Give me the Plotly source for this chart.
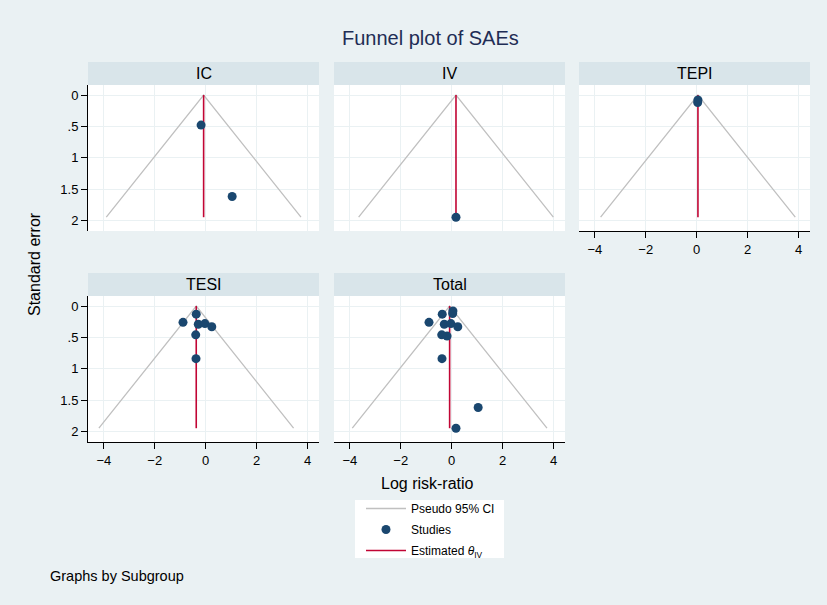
import plotly.graph_objects as go

# Subgroup funnel-plot data: log risk-ratio and its standard error per study
groups = ["IC", "IV", "TEPI", "TESI", "Total"]

ic_lrr = [-0.18, 1.04]
ic_se = [0.48, 1.62]

iv_lrr = [0.17]
iv_se = [1.95]

tepi_lrr = [0.05, 0.04]
tepi_se = [0.08, 0.12]

tesi_lrr = [-0.37, -0.89, -0.29, -0.03, 0.24, -0.39, -0.38]
tesi_se = [0.13, 0.26, 0.29, 0.28, 0.33, 0.46, 0.84]

total_lrr = ic_lrr + iv_lrr + tepi_lrr + tesi_lrr
total_se = ic_se + iv_se + tepi_se + tesi_se

# Inverse-variance pooled estimate per subgroup
theta_iv = [-0.08, 0.17, 0.05, -0.37, -0.08]

x_ticks = [-4, -2, 0, 2, 4]
y_ticks = [0, 0.5, 1, 1.5, 2]
y_tick_labels = ["0", ".5", "1", "1.5", "2"]

lrr = [ic_lrr, iv_lrr, tepi_lrr, tesi_lrr, total_lrr]
se = [ic_se, iv_se, tepi_se, tesi_se, total_se]
se_max = max(total_se)

W, H = 827, 605
BG = "#eaf1f3"
STRIP = "#d9e5ea"
GRID = "#eaf1f3"
NAVY = "#1a476f"
CRAN = "#c10534"
GRAY = "#c0c0c0"
FONT = "Liberation Sans, Arial, Helvetica, sans-serif"

# panel grid in pixels
col_px = [(88, 319), (334, 565), (579, 810)]
row_plot_px = [(85, 231), (296, 442)]
row_head_px = [(62, 85), (273, 296)]
cells = [(0, 0), (0, 1), (0, 2), (1, 0), (1, 1)]


def fx(px):
    return px / W


def fy(py):
    return 1 - py / H


fig = go.Figure()
layout_axes = {}
shapes = []
annotations = []

for i, (g, (r, c)) in enumerate(zip(groups, cells)):
    n = "" if i == 0 else str(i + 1)
    xa, ya = "x" + n, "y" + n
    th = theta_iv[i]
    first = i == 0

    fig.add_trace(go.Scatter(
        x=[th - 1.96 * se_max, th, th + 1.96 * se_max],
        y=[se_max, 0, se_max],
        mode="lines", line=dict(color=GRAY, width=1.3),
        name="Pseudo 95% CI", legendgroup="ci", legendrank=1,
        showlegend=first, xaxis=xa, yaxis=ya, hoverinfo="skip"))
    fig.add_trace(go.Scatter(
        x=[th, th], y=[0, se_max],
        mode="lines", line=dict(color=CRAN, width=1.6),
        name="Estimated <i>θ</i><sub>IV</sub>", legendgroup="est", legendrank=3,
        showlegend=first, xaxis=xa, yaxis=ya, hoverinfo="skip"))
    fig.add_trace(go.Scatter(
        x=lrr[i], y=se[i],
        mode="markers", marker=dict(color=NAVY, size=9),
        name="Studies", legendgroup="st", legendrank=2,
        showlegend=first, xaxis=xa, yaxis=ya))

    x0, x1 = col_px[c]
    y0, y1 = row_plot_px[r]
    hy0, hy1 = row_head_px[r]

    show_x = (r == 1) or (c == 2)
    show_y = c == 0

    layout_axes["xaxis" + n] = dict(
        domain=[fx(x0), fx(x1)], anchor=ya, range=[-4.62, 4.45],
        tickvals=x_ticks, ticktext=["−4", "−2", "0", "2", "4"],
        showticklabels=show_x, ticks="outside" if show_x else "",
        ticklen=6, tickwidth=1, tickcolor="#000000",
        showline=show_x, linecolor="#000000", linewidth=1,
        showgrid=True, gridcolor=GRID, gridwidth=1, zeroline=False,
        tickfont=dict(family=FONT, size=13, color="#000000"))
    layout_axes["yaxis" + n] = dict(
        domain=[fy(y1), fy(y0)], anchor=xa, range=[2.17, -0.16],
        tickvals=y_ticks, ticktext=y_tick_labels,
        showticklabels=show_y, ticks="outside" if show_y else "",
        ticklen=6, tickwidth=1, tickcolor="#000000",
        showline=show_y, linecolor="#000000", linewidth=1,
        showgrid=True, gridcolor=GRID, gridwidth=1, zeroline=False,
        tickfont=dict(family=FONT, size=13, color="#000000"))

    # plot-area background and subgroup header strip
    shapes.append(dict(type="rect", xref="paper", yref="paper",
                       x0=fx(x0), x1=fx(x1), y0=fy(y1), y1=fy(y0),
                       fillcolor="#ffffff", line=dict(width=0), layer="below"))
    shapes.append(dict(type="rect", xref="paper", yref="paper",
                       x0=fx(x0), x1=fx(x1), y0=fy(hy1), y1=fy(hy0),
                       fillcolor=STRIP, line=dict(width=0), layer="below"))
    annotations.append(dict(text=g, xref="paper", yref="paper",
                            x=fx((x0 + x1) / 2), y=fy((hy0 + hy1) / 2),
                            xanchor="center", yanchor="middle", showarrow=False,
                            font=dict(family=FONT, size=16, color="#000000")))

# white legend box
shapes.append(dict(type="rect", xref="paper", yref="paper",
                   x0=fx(355), x1=fx(504), y0=fy(558), y1=fy(500),
                   fillcolor="#ffffff", line=dict(width=0), layer="below"))

annotations += [
    dict(text="Funnel plot of SAEs", xref="paper", yref="paper",
         x=fx(430), y=fy(38), xanchor="center", yanchor="middle", showarrow=False,
         font=dict(family=FONT, size=20, color="#1f2d55")),
    dict(text="Standard error", xref="paper", yref="paper",
         x=fx(35), y=fy(264), xanchor="center", yanchor="middle", showarrow=False,
         textangle=-90, font=dict(family=FONT, size=16, color="#000000")),
    dict(text="Log risk-ratio", xref="paper", yref="paper",
         x=fx(427), y=fy(483), xanchor="center", yanchor="middle", showarrow=False,
         font=dict(family=FONT, size=16, color="#000000")),
    dict(text="Graphs by Subgroup", xref="paper", yref="paper",
         x=fx(48), y=fy(576), xanchor="left", yanchor="middle", showarrow=False,
         font=dict(family=FONT, size=14.5, color="#000000")),
]

fig.update_layout(
    width=W, height=H,
    margin=dict(l=0, r=0, t=0, b=0),
    paper_bgcolor=BG, plot_bgcolor="rgba(0,0,0,0)",
    font=dict(family=FONT, color="#000000"),
    shapes=shapes, annotations=annotations,
    showlegend=True,
    legend=dict(x=fx(361), y=fy(494), xanchor="left", yanchor="top",
                bgcolor="rgba(0,0,0,0)", borderwidth=0,
                traceorder="grouped", tracegroupgap=2,
                font=dict(family=FONT, size=12, color="#000000"),
                itemwidth=40),
    **layout_axes,
)

fig.write_html("out.html")
